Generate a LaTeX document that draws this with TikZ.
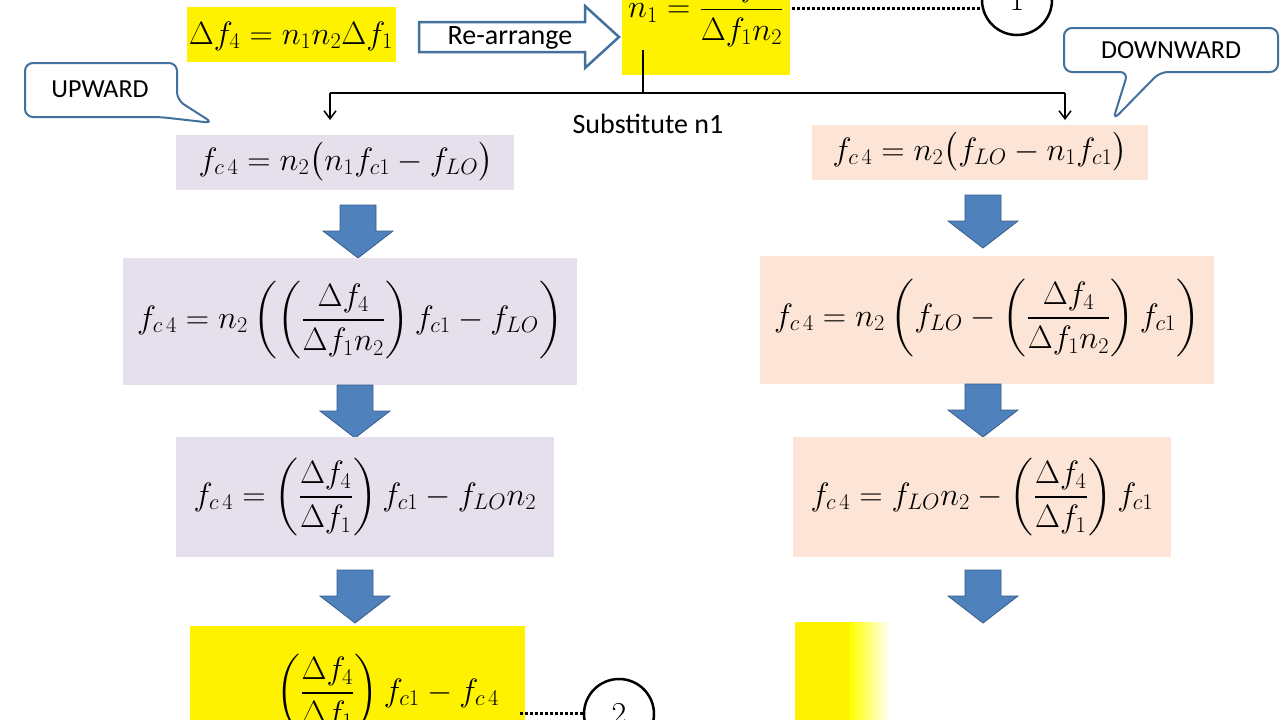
\documentclass[tikz,border=0pt]{standalone}
\usepackage{amsmath}
\usepackage{fontspec}
\usetikzlibrary{arrows.meta}
\newfontfamily\carlito{Carlito}
\newcommand\EQ[1]{\scalebox{1.3}{$\displaystyle #1$}}
\newcommand\BIG[1]{\scalebox{1.6}{#1}}
\definecolor{lav}{HTML}{E5E0EC}
\definecolor{peach}{HTML}{FCE4D6}
\definecolor{ablue}{HTML}{4F81BD}
\definecolor{ablueD}{HTML}{385D8A}
\definecolor{cblue}{HTML}{41719C}
\begin{document}
\begin{tikzpicture}[x=1pt,y=-1pt,
  eq/.style={inner sep=0pt,font=\fontsize{26}{30}\selectfont},
  boxl/.style={fill=lav,draw=none},
  boxr/.style={fill=peach,draw=none},
  circ/.style={draw,circle,line width=2.5pt,minimum size=70pt,inner sep=0pt,font=\fontsize{20}{24}\selectfont},
  dots/.style={line width=3pt,dotted},
  downarr/.pic={\fill[ablue,draw=ablueD,line width=0.8pt] (-18,0)--(18,0)--(18,26)--(35,26)--(0,53)--(-35,26)--(-18,26)--cycle;},
  lab/.style={font=\carlito\fontsize{28}{32}\selectfont,inner sep=0pt}]
\useasboundingbox (0,0) rectangle (1280,720);
\clip (0,0) rectangle (1280,720);
\fill[white] (0,0) rectangle (1280,720);
% top yellow boxes
\fill[yellow] (187,7) rectangle (396,62);
\node[eq] (e0) at (291,36) {\EQ{\Delta f_4 = n_1 n_2 \Delta f_1}};
\fill[yellow] (622,-40) rectangle (790,75);
\node[eq] (n1) at (706,10) {\EQ{n_1=\frac{\Delta f_4}{\Delta f_1 n_2}}};
% re-arrange arrow
\draw[cblue,line width=2.5pt,fill=white,line join=miter] (419,22)--(585,22)--(585,6)--(619,37)--(585,68)--(585,52)--(419,52)--cycle;
\node[lab] (ra) at (510,38) {Re-arrange};
% circle 1
\node[circ] (c1) at (1017,0) {\BIG{1}};
\draw[dots] (792,8) -- (c1.west |- 0,8);
% split connector
\coordinate (s0) at (643,50);
\coordinate (sm) at (643,93);
\coordinate (sl) at (330,93);
\coordinate (sr) at (1065,93);
\coordinate (tl) at (330,120);
\coordinate (tr) at (1065,120);
\draw[line width=2.5pt] (s0)--(sm);
\draw[line width=2.5pt] (sl)--(sr);
\draw[line width=1.5pt,-{Straight Barb[length=8pt,width=12pt]}] (sl)--(tl);
\draw[line width=1.5pt,-{Straight Barb[length=8pt,width=12pt]}] (sr)--(tr);
\node[lab] (sub) at (648,124) {Substitute n1};
% callouts
\draw[cblue,line width=2pt,fill=white,rounded corners=8pt] (25,63)--(177,63)--(177,100)--(213,123)--(160,117)--(25,117)--cycle;
\node[lab,font=\carlito\fontsize{26}{30}\selectfont] (up) at (100,89) {UPWARD};
\draw[cblue,line width=2pt,fill=white,rounded corners=8pt] (1064,28)--(1278,28)--(1278,72)--(1160,72)--(1113,120)--(1128,72)--(1064,72)--cycle;
\node[lab,font=\carlito\fontsize{26}{30}\selectfont] (dn) at (1171,50) {DOWNWARD};
% left column
\fill[boxl] (176,135) rectangle (514,190);
\node[eq] (l1) at (346,162) {\EQ{f_{c\,4}=n_2\big(n_1f_{c1}-f_{LO}\big)}};
\pic at (358,205) {downarr};
\fill[boxl] (123,258) rectangle (577,385);
\node[eq] (l2) at (350,320) {\EQ{f_{c\,4}=n_2\left(\left(\frac{\Delta f_4}{\Delta f_1 n_2}\right)f_{c1}-f_{LO}\right)}};
\pic at (355,385) {downarr};
\fill[boxl] (176,437) rectangle (554,557);
\node[eq] (l3) at (365,497) {\EQ{f_{c\,4}=\left(\frac{\Delta f_4}{\Delta f_1}\right)f_{c1}-f_{LO}n_2}};
\pic at (355,570) {downarr};
\fill[yellow] (190,626) rectangle (525,730);
\node[eq,anchor=west] (l4) at (276,693) {\EQ{\left(\frac{\Delta f_4}{\Delta f_1}\right)f_{c1}-f_{c\,4}}};
\node[circ] (c2) at (619,714) {\BIG{2}};
\draw[dots] (520,713) -- (c2.west |- 0,713);
% right column
\fill[boxr] (812,125) rectangle (1148,180);
\node[eq] (r1) at (980,152) {\EQ{f_{c\,4}=n_2\big(f_{LO}-n_1f_{c1}\big)}};
\pic at (983,195) {downarr};
\fill[boxr] (760,256) rectangle (1214,384);
\node[eq] (r2) at (987,318) {\EQ{f_{c\,4}=n_2\left(f_{LO}-\left(\frac{\Delta f_4}{\Delta f_1 n_2}\right)f_{c1}\right)}};
\pic at (983,384) {downarr};
\fill[boxr] (793,437) rectangle (1171,557);
\node[eq] (r3) at (982,497) {\EQ{f_{c\,4}=f_{LO}n_2-\left(\frac{\Delta f_4}{\Delta f_1}\right)f_{c1}}};
\pic at (983,570) {downarr};
\fill[yellow] (795,622) rectangle (850,730);
\shade[left color=yellow,right color=white] (850,622) rectangle (890,730);
\end{tikzpicture}
\end{document}
